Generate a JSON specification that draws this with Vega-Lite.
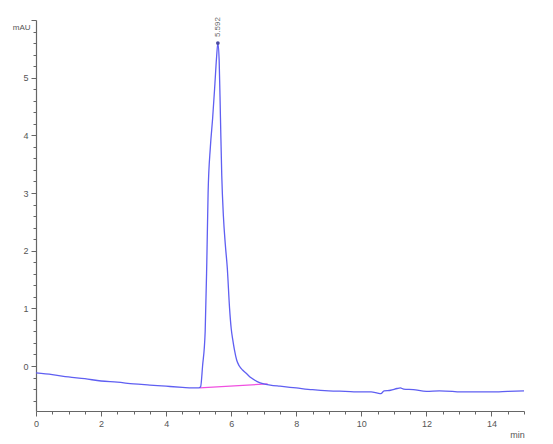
{
  "$schema": "https://vega.github.io/schema/vega-lite/v6.json",
  "width": 488,
  "height": 391,
  "autosize": "none",
  "padding": {"left": 36, "top": 20, "right": 29, "bottom": 33},
  "background": "white",
  "config": {
    "view": {"stroke": null},
    "font": "Liberation Sans"
  },
  "datasets": {
    "signal": [
      {"t": 0, "v": -0.12}, {"t": 0.5, "v": -0.15}, {"t": 1, "v": -0.19}, {"t": 1.5, "v": -0.22},
      {"t": 2, "v": -0.26}, {"t": 2.5, "v": -0.28}, {"t": 3, "v": -0.31}, {"t": 3.5, "v": -0.33},
      {"t": 4, "v": -0.35}, {"t": 4.5, "v": -0.37}, {"t": 4.8, "v": -0.38}, {"t": 5.0, "v": -0.38},
      {"t": 5.06, "v": -0.36}, {"t": 5.12, "v": 0.0}, {"t": 5.2, "v": 0.6}, {"t": 5.25, "v": 1.8},
      {"t": 5.29, "v": 3.0}, {"t": 5.36, "v": 3.8}, {"t": 5.43, "v": 4.3}, {"t": 5.5, "v": 4.9},
      {"t": 5.55, "v": 5.35}, {"t": 5.59, "v": 5.6}, {"t": 5.63, "v": 5.3}, {"t": 5.67, "v": 4.3},
      {"t": 5.71, "v": 3.3}, {"t": 5.76, "v": 2.6}, {"t": 5.82, "v": 2.1}, {"t": 5.88, "v": 1.7},
      {"t": 5.95, "v": 1.0}, {"t": 6.0, "v": 0.65}, {"t": 6.05, "v": 0.45}, {"t": 6.1, "v": 0.28},
      {"t": 6.17, "v": 0.1}, {"t": 6.25, "v": 0.0}, {"t": 6.35, "v": -0.07}, {"t": 6.47, "v": -0.13},
      {"t": 6.6, "v": -0.2}, {"t": 6.8, "v": -0.27}, {"t": 7.0, "v": -0.31}, {"t": 7.2, "v": -0.33},
      {"t": 7.5, "v": -0.35}, {"t": 8, "v": -0.38}, {"t": 8.5, "v": -0.41}, {"t": 9, "v": -0.43},
      {"t": 9.5, "v": -0.44}, {"t": 10, "v": -0.45}, {"t": 10.3, "v": -0.45}, {"t": 10.5, "v": -0.47},
      {"t": 10.6, "v": -0.48}, {"t": 10.7, "v": -0.43}, {"t": 10.9, "v": -0.42}, {"t": 11.1, "v": -0.39},
      {"t": 11.2, "v": -0.38}, {"t": 11.3, "v": -0.4}, {"t": 11.6, "v": -0.41}, {"t": 12, "v": -0.44},
      {"t": 12.4, "v": -0.43}, {"t": 12.8, "v": -0.44}, {"t": 13, "v": -0.45}, {"t": 13.5, "v": -0.45},
      {"t": 14, "v": -0.45}, {"t": 14.5, "v": -0.44}, {"t": 15, "v": -0.43}
    ],
    "baseline": [
      {"t": 5.03, "v": -0.38}, {"t": 7.12, "v": -0.31}
    ],
    "peak": [
      {"t": 5.59, "v": 5.6, "label": "5.592"}
    ]
  },
  "layer": [
    {
      "data": {"name": "baseline"},
      "mark": {"type": "line", "color": "#f050e0", "strokeWidth": 1.2},
      "encoding": {
        "x": {
          "field": "t", "type": "quantitative",
          "scale": {"domain": [0, 15], "nice": false, "zero": false},
          "axis": {
            "title": "min",
            "titleAngle": 0,
            "titleX": 481,
            "titleY": 19,
            "titleFontSize": 9,
            "titleFontWeight": "normal",
            "titleColor": "#555",
            "titleAlign": "center",
            "tickCount": 500,
            "values": [0,0.5,1,1.5,2,2.5,3,3.5,4,4.5,5,5.5,6,6.5,7,7.5,8,8.5,9,9.5,10,10.5,11,11.5,12,12.5,13,13.5,14,14.5,15],
            "labelExpr": "abs(datum.value % 2) < 0.001 && datum.value < 15 ? format(round(datum.value), 'd') : ''",
            "labelOverlap": false,
            "labelFlush": false,
            "tickSize": {"expr": "abs(datum.value % 2) < 0.001 ? 5 : 3"},
            "grid": false,
            "domainColor": "#666",
            "tickColor": "#666",
            "labelColor": "#555",
            "labelFontSize": 9,
            "labelPadding": 3,
            "domainWidth": 1.2
          }
        },
        "y": {
          "field": "v", "type": "quantitative",
          "scale": {"domain": [-0.78, 6], "nice": false, "zero": false},
          "axis": {
            "title": "mAU",
            "titleAngle": 0,
            "titleX": -6,
            "titleY": 7,
            "titleAlign": "right",
            "titleBaseline": "middle",
            "titleFontSize": 8,
            "titleFontWeight": "normal",
            "titleColor": "#555",
            "tickCount": 500,
            "values": [-0.6,-0.4,-0.2,0,0.2,0.4,0.6,0.8,1,1.2,1.4,1.6,1.8,2,2.2,2.4,2.6,2.8,3,3.2,3.4,3.6,3.8,4,4.2,4.4,4.6,4.8,5,5.2,5.4,5.6,5.8,6],
            "labelExpr": "abs(datum.value - round(datum.value)) < 0.001 && datum.value < 5.5 && datum.value > -0.5 ? format(round(datum.value), 'd') : ''",
            "labelOverlap": false,
            "labelFlush": false,
            "tickSize": {"expr": "abs(datum.value - round(datum.value)) < 0.001 ? 5 : 3"},
            "grid": false,
            "domainColor": "#666",
            "tickColor": "#666",
            "labelColor": "#555",
            "labelFontSize": 9,
            "labelPadding": 3,
            "domainWidth": 1.2
          }
        }
      }
    },
    {
      "data": {"name": "signal"},
      "mark": {"type": "line", "color": "#5f5ff2", "strokeWidth": 1.3, "interpolate": "monotone"},
      "encoding": {
        "x": {"field": "t", "type": "quantitative"},
        "y": {"field": "v", "type": "quantitative"}
      }
    },
    {
      "data": {"name": "peak"},
      "mark": {"type": "point", "filled": true, "color": "#4a4aa0", "size": 14, "opacity": 1},
      "encoding": {
        "x": {"field": "t", "type": "quantitative"},
        "y": {"field": "v", "type": "quantitative"}
      }
    },
    {
      "data": {"name": "peak"},
      "mark": {"type": "text", "angle": 270, "align": "left", "baseline": "middle", "dx": 6, "fontSize": 8, "color": "#666"},
      "encoding": {
        "x": {"field": "t", "type": "quantitative"},
        "y": {"field": "v", "type": "quantitative"},
        "text": {"field": "label"}
      }
    }
  ]
}
